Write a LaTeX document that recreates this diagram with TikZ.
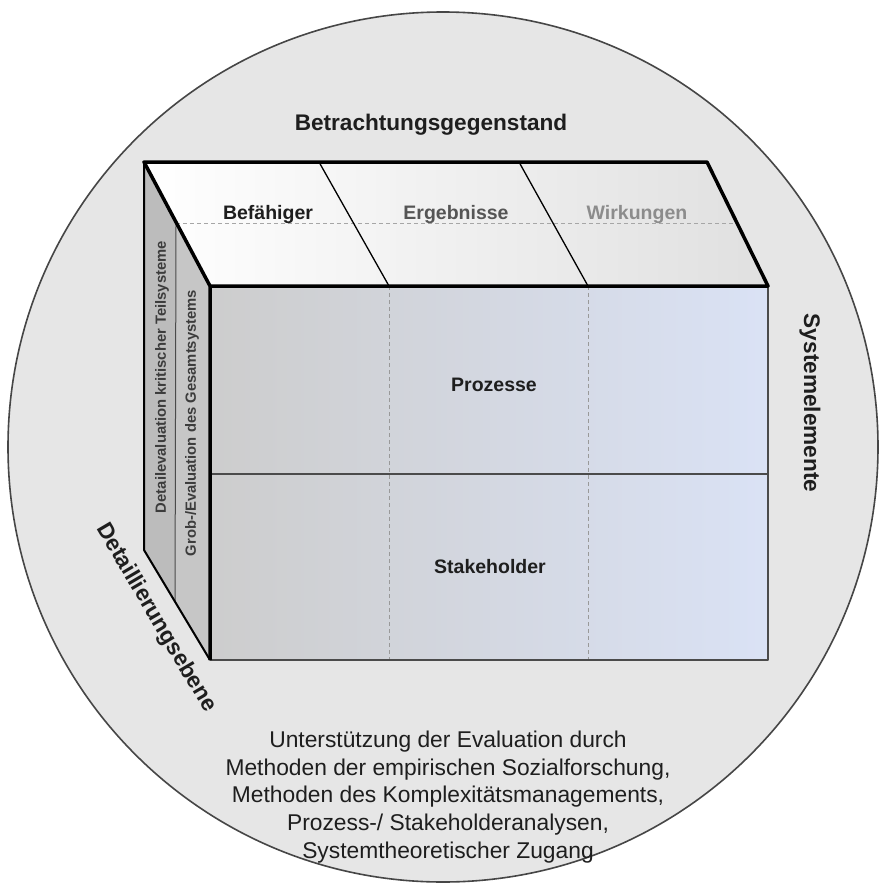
\documentclass[tikz,border=0pt]{standalone}
\usepackage{fontspec}
\setmainfont{Liberation Sans}
\usetikzlibrary{calc}
\definecolor{circfill}{RGB}{230,230,230}
\definecolor{circline}{RGB}{70,70,70}
\definecolor{topl}{RGB}{255,255,255}
\definecolor{topr}{RGB}{224,224,224}
\definecolor{frontl}{RGB}{205,205,205}
\definecolor{frontm}{RGB}{212,215,224}
\definecolor{frontr}{RGB}{218,226,245}
\definecolor{sideout}{RGB}{188,188,188}
\definecolor{sidein}{RGB}{198,198,198}
\definecolor{edgegray}{RGB}{75,75,75}
\definecolor{txtdark}{RGB}{30,30,30}
\definecolor{txtmid}{RGB}{85,85,85}
\definecolor{txtstrip}{RGB}{60,60,60}
\definecolor{txtlight}{RGB}{140,140,140}
\begin{document}
\begin{tikzpicture}[x=1pt,y=-1pt,line join=round,
  heading/.style={font=\fontsize{22.6}{26}\selectfont\bfseries, text=txtdark, inner sep=0pt},
  celllabel/.style={font=\fontsize{19.5}{23}\selectfont\bfseries, text=txtdark, inner sep=0pt, anchor=base},
  striplabel/.style={font=\fontsize{14.8}{17}\selectfont\bfseries, text=txtstrip, inner sep=0pt, rotate=90},
  thickedge/.style={line width=3.5pt, black},
  sideedge/.style={line width=2pt, black},
  grayedge/.style={line width=2.5pt, edgegray},
  divline/.style={line width=1.3pt, black},
  midline/.style={line width=1.4pt, edgegray},
  topdash/.style={line width=0.8pt, gray!70, dash pattern=on 4pt off 3pt},
  frontdash/.style={line width=0.8pt, gray!80, dash pattern=on 4pt off 3pt}]
\useasboundingbox (0,0) rectangle (880,886);
\fill[white] (0,0) rectangle (880,886);
\draw[line width=1.6pt, circline, fill=circfill] (443,447) circle[radius=435pt];

% corners of the cube
\coordinate (A) at (144,162);
\coordinate (B) at (707,162);
\coordinate (C) at (768,286);
\coordinate (D) at (210,286);
\coordinate (E) at (768,660);
\coordinate (F) at (210,660);
\coordinate (G) at (144,550);
\coordinate (P1) at (319,162); \coordinate (Q1) at (389,286);
\coordinate (P2) at (519,162); \coordinate (Q2) at (588,286);
\coordinate (R1) at (389,660); \coordinate (R2) at (588,660);
\coordinate (M1) at ($(A)!0.485!(D)$);
\coordinate (M2) at ($(G)!0.47!(F)$);
\coordinate (H1) at (210,474); \coordinate (H2) at (768,474);
\coordinate (L1) at ($(A)!0.492!(D)$);
\coordinate (L2) at ($(B)!0.492!(C)$);

% faces
\fill[sidein] (M1) -- (D) -- (F) -- (M2) -- cycle;
\fill[sideout] (A) -- (M1) -- (M2) -- (G) -- cycle;
\shade[left color=topl, right color=topr] (A) -- (B) -- (C) -- (D) -- cycle;
\shade[left color=frontl, middle color=frontm, right color=frontr] (D) -- (C) -- (E) -- (F) -- cycle;

% inner lines
\draw[topdash] (L1) -- (L2);
\draw[divline] (P1) -- (Q1);
\draw[divline] (P2) -- (Q2);
\draw[frontdash] (Q1) -- (R1);
\draw[frontdash] (Q2) -- (R2);
\draw[midline] (H1) -- (H2);
\draw[line width=1pt, edgegray] (M1) -- (M2);

% edges
\draw[grayedge] (C) -- (E) -- (F);
\draw[sideedge] (A) -- (G) -- (F);
\draw[thickedge] (F) -- (D) -- (A) -- (B) -- (C) -- (D);

% labels
\node[heading, anchor=base] (betr) at (431,130) {Betrachtungsgegenstand};
\node[heading, rotate=-90] (syst) at (810,403) {Systemelemente};
\node[heading, rotate=-59.5] (detl) at (156,618) {Detaillierungsebene};
\node[celllabel] (befa) at (268,219) {Befähiger};
\node[celllabel, text=txtmid] (ergb) at (456,219) {Ergebnisse};
\node[celllabel, text=txtlight] (wirk) at (637,219) {Wirkungen};
\node[celllabel] (proz) at (494,391) {Prozesse};
\node[celllabel] (stak) at (490,573) {Stakeholder};
\node[striplabel] (dete) at (162,377) {Detailevaluation kritischer Teilsysteme};
\node[striplabel] (grob) at (192,423) {Grob-/Evaluation des Gesamtsystems};
\node[font=\fontsize{22.8}{27.8}\selectfont, text=txtdark, align=center, inner sep=0pt] (unter) at (448,797)
  {Unterstützung der Evaluation durch\\Methoden der empirischen Sozialforschung,\\Methoden des Komplexitätsmanagements,\\Prozess-/ Stakeholderanalysen,\\Systemtheoretischer Zugang};
\end{tikzpicture}
\end{document}
